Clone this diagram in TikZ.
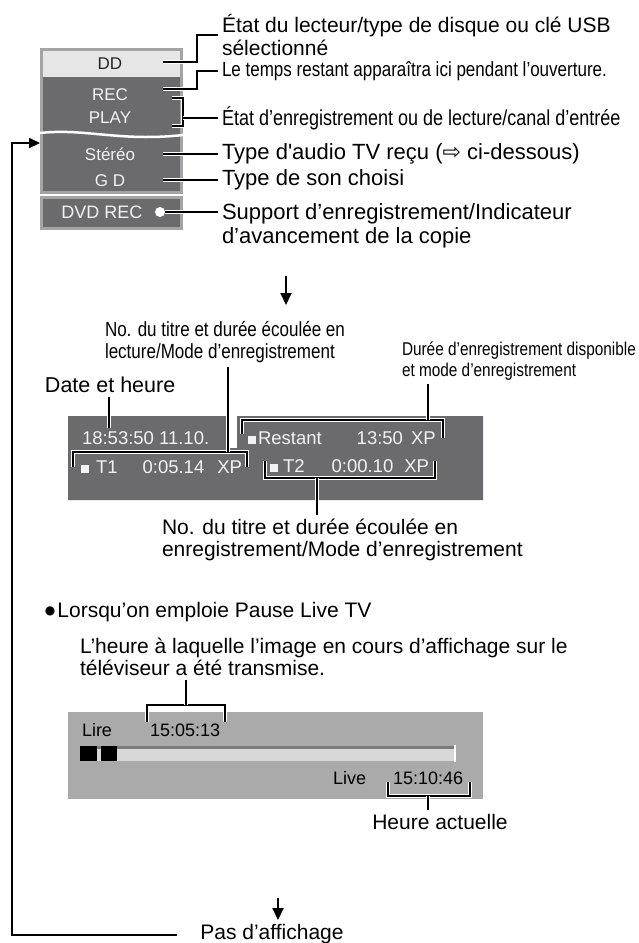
\documentclass[tikz,border=0pt]{standalone}
\usepackage{fontspec}
\setmainfont{Liberation Sans}
\newfontfamily\narrowfont[FakeStretch=0.83]{Liberation Sans}
\newfontfamily\symfont{DejaVu Sans}
\usetikzlibrary{arrows.meta}
\definecolor{pdark}{HTML}{6B6B6D}
\definecolor{pborder}{HTML}{A4A4A4}
\definecolor{ddrow}{HTML}{E6E6E6}
\definecolor{plight}{HTML}{AAAAAA}
\definecolor{pfg}{HTML}{F2F2F2}
\definecolor{barfill}{HTML}{D8D8D8}
\definecolor{baredge}{HTML}{7C7C7C}
\newcommand{\sq}{{\color{pfg}\rule[0.5pt]{8pt}{8pt}}}

\begin{document}
\begin{tikzpicture}[x=1pt,y=-1pt,
  lbl/.style={anchor=west,inner sep=0pt,outer sep=4pt,align=left,font=\fontsize{22}{24}\selectfont},
  lblb/.style={lbl,font=\fontsize{21}{22.5}\selectfont},
  nlbl/.style={lbl,font=\narrowfont\fontsize{20.5}{22}\selectfont},
  ptxt/.style={inner sep=0pt,text=pfg,font=\fontsize{17}{17}\selectfont},
  mtxt/.style={anchor=west,inner sep=0pt,outer sep=0pt,text=pfg,font=\fontsize{18.5}{18.5}\selectfont},
  btxt/.style={mtxt,text=black,font=\fontsize{18}{18}\selectfont},
  conn/.style={line width=1.8pt,preaction={draw=white,line width=4.2pt}},
  arr/.style={line width=1.8pt,-{Triangle[length=12pt,width=11pt]}}]
\useasboundingbox (0,0) rectangle (638,943);

% status panel
\fill[pborder] (40,48) rectangle (183,230);
\fill[ddrow] (43,51) rectangle (180,77);
\fill[pdark] (43,77) rectangle (180,191);
\fill[pdark] (43,199) rectangle (180,227);
\draw[white,line width=2.5pt] (40,133) .. controls (85,128) and (120,142) .. (183,135);
\draw[white,line width=2pt] (40,194.5) -- (183,194.5);
\node[ptxt,text=black!85] (dd) at (110,64) {DD};
\node[ptxt] (rec) at (110,95) {REC};
\node[ptxt] (play) at (110,118) {PLAY};
\node[ptxt] (stereo) at (110,154) {Stéréo};
\node[ptxt] (gd) at (110,181) {G D};
\node[ptxt,font=\fontsize{18}{18}\selectfont] (dvd) at (102,212) {DVD REC};
\node[circle,fill=white,inner sep=0pt,minimum size=10pt] (dot) at (160,212) {};

\node[lbl,font=\fontsize{21}{23.5}\selectfont] (etat) at (218,35) {État du lecteur/type de disque ou clé USB\\sélectionné};
\node[nlbl] (temps) at (218,71) {Le temps restant apparaîtra ici pendant l’ouverture.};
\node[nlbl,font=\narrowfont\fontsize{21.7}{24}\selectfont] (enr) at (218,118) {État d’enregistrement ou de lecture/canal d’entrée};
\node[lbl] (audio) at (218,154) {Type d\textquotesingle audio TV reçu ({\symfont ⇨} ci-dessous)};
\node[lbl] (son) at (218,180) {Type de son choisi};
\node[lbl,anchor=north west] (sup) at (218,200) {Support d’enregistrement/Indicateur\\d’avancement de la copie};

\coordinate (ddc) at (163,62);
\coordinate (recc) at (163,89);
\coordinate (brt) at (172,98);
\coordinate (brb) at (172,126);
\coordinate (brm) at (183,118);
\coordinate (stc) at (163,154);
\coordinate (gdc) at (163,180);
\draw[conn] (ddc) -- ++(34,0) |- (etat.west);
\draw[conn] (recc) -- ++(34,0) |- (temps.west);
\draw[conn] (brt) -| (brm) |- (brb);
\draw[conn] (brm) -- (enr.west);
\draw[conn] (stc) -- (audio.west);
\draw[conn] (gdc) -- (son.west);
\draw[conn] (dot) -- (dot -| sup.west);

\coordinate (a1) at (286,276);
\coordinate (a2) at (286,305);
\draw[arr] (a1) -- (a2);

% info panel
\node[nlbl] (tlec) at (101,342) {No. du titre et durée écoulée en\\lecture/Mode d’enregistrement};
\node[lblb,font=\fontsize{21.5}{23}\selectfont] (date) at (41,385) {Date et heure};
\node[nlbl,font=\narrowfont\fontsize{18.5}{21}\selectfont] (duree) at (398,361) {Durée d’enregistrement disponible\\et mode d’enregistrement};

\fill[pdark] (68,416) -- (226,416) -- (226,448) -- (237,448) -- (237,416) -- (483,416) -- (483,500) -- (68,500) -- cycle;
\node[mtxt] (clock) at (82,438) {18:53:50 11.10.};
\node[mtxt] (rest) at (248,438) {\sq\hspace{2pt}Restant\hspace{35pt}13:50\hspace{8pt}XP};
\node[mtxt] (t1) at (81,467) {\sq\hspace{7pt}T1\hspace{25pt}0:05.14\hspace{13pt}XP};
\node[mtxt] (t2) at (270,466) {\sq\hspace{5pt}T2\hspace{27pt}0:00.10\hspace{11pt}XP};

\coordinate (dtc) at (109,428);
\draw[conn] (dtc) -- (dtc |- date.south);
\coordinate (b1l) at (73,467);
\coordinate (b1j) at (228,452);
\coordinate (b1r) at (247,467);
\draw[conn] (b1l) |- (b1j) -| (b1r);
\draw[conn] (b1j) -- (b1j |- tlec.south);
\coordinate (b2l) at (242,434);
\coordinate (b2j) at (428,420);
\coordinate (b2r) at (443,438);
\draw[conn] (b2l) |- (b2j) -| (b2r);
\draw[conn] (b2j) -- (b2j |- duree.south);
\coordinate (b3l) at (265,461);
\coordinate (b3j) at (317,478);
\coordinate (b3r) at (435,461);
\draw[conn] (b3l) |- (b3j) -| (b3r);
\node[lblb,anchor=north west] (tenr) at (158,515) {No. du titre et durée écoulée en\\enregistrement/Mode d’enregistrement};
\draw[conn] (b3j) -- (b3j |- tenr.north);

% pause live tv
\node[lblb] (pause) at (41,612) {\raisebox{2.5pt}{\symfont\fontsize{12}{12}\selectfont ●}\hspace{2pt}Lorsqu’on emploie Pause Live TV};
\node[lblb] (heure) at (76,657) {L’heure à laquelle l’image en cours d’affichage sur le\\téléviseur a été transmise.};

\fill[plight] (68,712) rectangle (483,799);
\node[btxt] (lire) at (82,730) {Lire};
\node[btxt] (hlire) at (150,730) {15:05:13};
\coordinate (b4l) at (147,722);
\coordinate (b4j) at (186,705);
\coordinate (b4r) at (225,722);
\draw[conn] (b4l) |- (b4j) -| (b4r);
\draw[conn] (b4j) -- (b4j |- heure.south);
\fill[barfill] (80,746) rectangle (455,761);
\draw[baredge,line width=3pt] (80,747.5) -- (455,747.5);
\fill[black] (80,746) rectangle (97,761);
\fill[black] (101,746) rectangle (117,761);
\draw[white,line width=2.5pt] (455,745) -- (455,762);
\node[btxt] (live) at (333,778) {Live};
\node[btxt] (hlive) at (393,778) {15:10:46};
\coordinate (b5l) at (388,782);
\coordinate (b5j) at (428,796);
\coordinate (b5r) at (470,782);
\draw[conn] (b5l) |- (b5j) -| (b5r);
\node[lblb,anchor=north] (actu) at (440,810) {Heure actuelle};
\draw[conn] (b5j) -- (b5j |- actu.north);

\coordinate (a3) at (278,898);
\coordinate (a4) at (278,920);
\draw[arr] (a3) -- (a4);
\node[lblb,anchor=center] (pas) at (272,934) {Pas d’affichage};
\coordinate (lpe) at (177,935);
\coordinate (lpt) at (12,143);
\coordinate (lpa) at (40,143);
\draw[line width=2.2pt,-{Triangle[length=11pt,width=10pt]}] (lpe) -| (lpt) -- (lpa);
\end{tikzpicture}
\end{document}
